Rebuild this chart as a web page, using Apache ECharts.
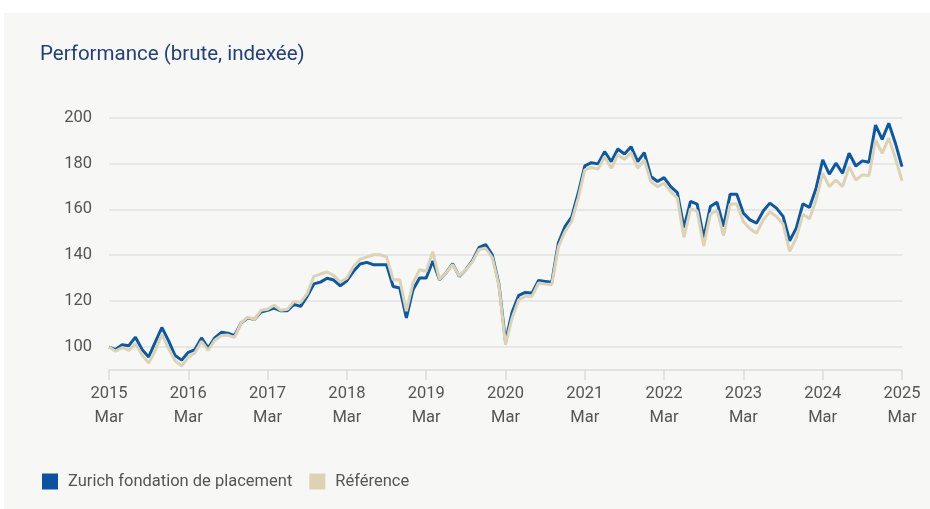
<!DOCTYPE html>
<html>
<head>
<meta charset="utf-8">
<script src="https://cdn.jsdelivr.net/npm/echarts@6/dist/echarts.min.js"></script>
<style>
html,body{margin:0;padding:0;background:#fff;}
#chart{width:930px;height:509px;}
</style>
</head>
<body>
<div id="chart"></div>
<script>
const seriesNames = ['Zurich fondation de placement', 'Référence'];
const yearTickLabels = ['2015\nMar','2016\nMar','2017\nMar','2018\nMar','2019\nMar','2020\nMar','2021\nMar','2022\nMar','2023\nMar','2024\nMar','2025\nMar'];
const yTickValues = [100, 120, 140, 160, 180, 200];

const fondation = [
100, 98.9, 101, 100.6, 104.3, 98.9, 95.7, 102.1, 108.5, 102.8, 96.3, 94.3,
97.7, 98.9, 104, 99.6, 104, 106.4, 106, 105, 110.5, 112.7, 112, 115.3,
116, 117, 115.8, 115.8, 118.6, 117.7, 122.2, 127.5, 128.3, 130, 129.2, 126.7,
128.9, 133, 136.2, 136.9, 135.9, 135.9, 135.9, 126.4, 125.7, 112.7, 125, 130.1,
130.1, 137.5, 129.3, 132.3, 136.3, 130.8, 133.7, 137.6, 143.4, 144.6, 140.2, 127.5,
102.5, 115.1, 122.5, 123.8, 123.5, 129, 128.6, 128.2, 145.3, 152.5, 156.6, 167,
178.9, 180.3, 179.8, 185.1, 180.8, 186.3, 184.1, 187.3, 180.8, 184.7, 174.3, 172.1,
173.8, 169.9, 167.3, 152, 163.5, 162.3, 147.5, 161.2, 163.1, 152.5, 166.6, 166.6,
158.3, 155.4, 154, 159.3, 162.7, 160.5, 156.9, 146.3, 151.8, 162.4, 160.8, 169.2,
181.5, 175.3, 180.1, 175.7, 184.4, 178.9, 181.1, 180.5, 196.7, 190.5, 197.5, 188.8,
178.6
];
const reference = [
100, 98.2, 99.8, 98.5, 101.5, 96.5, 93, 98.5, 105.5, 99.5, 94, 91.8,
95.5, 97.5, 102.5, 98.5, 103, 105, 105.2, 104.2, 110.5, 113, 112, 116,
116.5, 118.2, 116, 116.5, 119.8, 119.5, 123.3, 130.8, 131.8, 132.7, 131.2, 128.3,
130.1, 135.1, 138.3, 139.2, 140.2, 140.2, 139.3, 129.3, 129.3, 115.6, 127.9, 133.7,
133, 141.5, 129.5, 132.3, 136, 131, 133.7, 137.2, 142.5, 143, 139, 127,
101, 112.7, 120.6, 122.1, 122.1, 127.9, 127.5, 127.2, 143.6, 150.3, 154.7, 164.9,
177.2, 178.2, 177.5, 183, 177.9, 183.7, 181.8, 184.7, 177.9, 181.5, 172.1, 169.9,
171.4, 167.7, 164.9, 147.8, 160.3, 159.2, 144, 158, 159.5, 148.5, 162.3, 162.3,
154.6, 151.5, 149.6, 155.4, 158.8, 156.9, 153.6, 141.7, 147.5, 157.9, 155.9, 164.1,
175.7, 169.9, 172.8, 169.9, 178.6, 172.8, 175, 174.6, 190.2, 184.4, 191, 182.3,
172.4
];

// monthly categories Mar 2015 .. Mar 2025
const months = [];
for (let i = 0; i < fondation.length; i++) {
  const m = 2 + i;
  const y = 2015 + Math.floor(m / 12);
  const mm = (m % 12) + 1;
  months.push(y + '-' + (mm < 10 ? '0' + mm : mm));
}

const chart = echarts.init(document.getElementById('chart'), null, {renderer: 'canvas'});
const FONT = 'Roboto, "Open Sans", sans-serif';
const option = {
  backgroundColor: '#ffffff',
  animation: false,
  graphic: [{
    type: 'rect', z: -10, silent: true,
    shape: {x: 4, y: 13, width: 926, height: 496},
    style: {fill: '#f7f7f5'}
  }],
  title: {
    text: 'Performance (brute, indexée)',
    left: 35, top: 39,
    textStyle: {fontFamily: FONT, fontSize: 20.5, fontWeight: 'normal', color: '#23407e'}
  },
  legend: {
    left: 37, top: 468,
    icon: 'rect', itemWidth: 16, itemHeight: 16, itemGap: 17,
    textStyle: {fontFamily: FONT, fontSize: 16.5, color: '#555', padding: [0, 0, 0, 5]},
    data: seriesNames
  },
  grid: {left: 109, right: 28, top: 117.5, bottom: 139, containLabel: false},
  xAxis: {
    type: 'category',
    data: months,
    boundaryGap: false,
    axisLine: {lineStyle: {color: '#dcdcdc', width: 1.5}},
    axisTick: {
      length: 10, lineStyle: {color: '#dcdcdc', width: 1.5},
      interval: function (idx) { return idx % 12 === 0; }
    },
    axisLabel: {
      interval: function (idx) { return idx % 12 === 0; },
      formatter: function (val, idx) { return idx % 12 === 0 ? yearTickLabels[idx / 12] : ''; },
      fontFamily: FONT, fontSize: 16.5, color: '#555', lineHeight: 24, margin: 12
    },
    splitLine: {show: false}
  },
  yAxis: {
    type: 'value',
    min: 90, max: 200, interval: 10,
    axisLine: {show: false},
    axisTick: {show: false},
    splitLine: {show: false},
    axisLabel: {
      formatter: function (v) { return yTickValues.indexOf(v) >= 0 ? String(v) : ''; },
      fontFamily: FONT, fontSize: 16.5, color: '#555', margin: 17
    }
  },
  series: [
    {
      name: seriesNames[0], type: 'line', data: fondation,
      showSymbol: false, symbol: 'none', z: 3,
      lineStyle: {color: '#0b59a6', width: 3},
      itemStyle: {color: '#0b52a3'},
      markLine: {
        silent: true, symbol: 'none', z: 1,
        label: {show: false},
        lineStyle: {color: '#e2e2e0', width: 1.5, type: 'solid'},
        emphasis: {disabled: true},
        data: yTickValues.map(function (v) { return {yAxis: v}; })
      }
    },
    {
      name: seriesNames[1], type: 'line', data: reference,
      showSymbol: false, symbol: 'none', z: 4,
      lineStyle: {color: '#dcd2b4', width: 3},
      itemStyle: {color: '#dcd2b4'}
    }
  ]
};
chart.setOption(option);
</script>
</body>
</html>
